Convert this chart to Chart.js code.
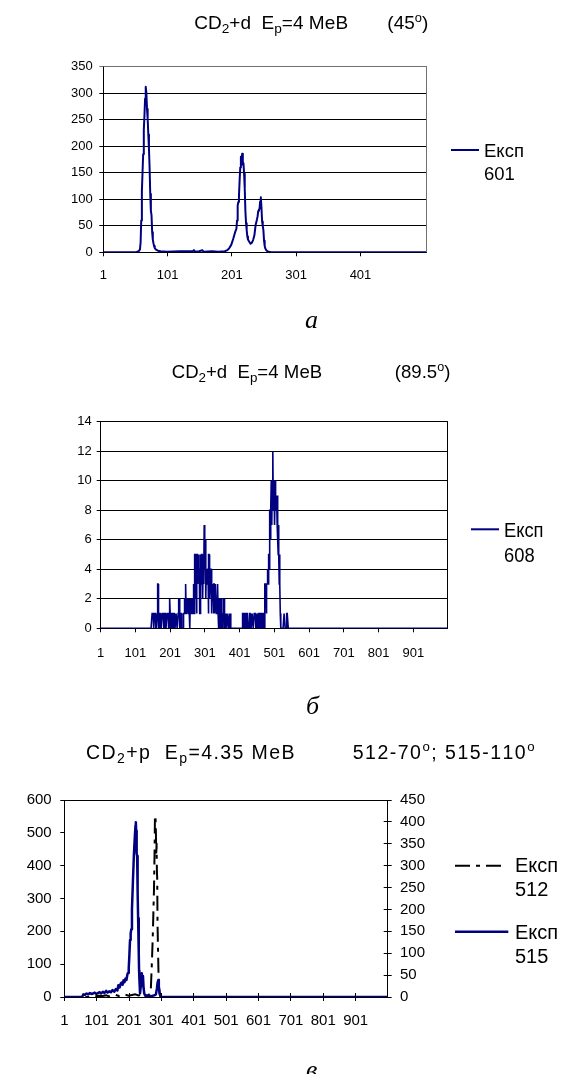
<!DOCTYPE html>
<html>
<head>
<meta charset="utf-8">
<script src="https://cdn.jsdelivr.net/npm/chart.js@4.4.1/dist/chart.umd.min.js"></script>
<style>
html,body{margin:0;padding:0;background:#fff;}
#wrap{position:relative;width:569px;height:1074px;overflow:hidden;background:#fff;}
canvas{position:absolute;left:0;}
</style>
</head>
<body>
<div id="wrap">
<canvas id="c1" width="569" height="340" style="top:0px"></canvas>
<canvas id="c2" width="569" height="380" style="top:340px"></canvas>
<canvas id="c3" width="569" height="354" style="top:720px"></canvas>
</div>
<script>
// ---------- DATA ----------
// Panel а: spectrum 601, [channel, counts]
const spectrum601 = [[1,0],[52,0],[54,1],[56,2],[58,5],[59,18],[60,60],[61,115],[62,150],[63,185],[64,230],[65,258],[66,290],[67,312],[68,300],[69,270],[70,252],[71,222],[72,195],[73,160],[74,110],[75,78],[76,70],[77,38],[78,24],[79,17],[80,12],[81,8],[83,5],[86,3],[90,2],[100,1],[120,2],[140,2],[142,4],[144,1],[150,2],[155,4],[157,1],[170,2],[180,1],[190,2],[194,4],[197,8],[200,14],[203,25],[206,38],[208,44],[209,60],[210,88],[211,95],[212,106],[213,135],[214,160],[215,180],[216,172],[217,186],[218,165],[219,168],[220,148],[221,120],[222,78],[223,55],[224,42],[225,30],[226,24],[228,20],[230,16],[232,18],[234,23],[236,32],[238,52],[240,62],[241,68],[242,78],[243,80],[244,82],[245,96],[246,104],[247,84],[248,58],[249,50],[250,42],[251,22],[252,12],[253,7],[255,3],[258,1],[262,0],[504,0]];
const xTicks601 = [1,101,201,301,401];
const yTicks601 = [0,50,100,150,200,250,300,350];

// Panel б: spectrum 608, counts per channel starting at channel counts608First
const counts608First = 145;
const counts608 = [
0,0,0,0,
1,1,1,1,0,0,1,1,1,1,1,0,0,
0,0,1,3,3,1,0,0,
0,1,1,1,0,0,0,0,1,1,1,1,0,
0,0,0,1,1,1,0,0,0,1,1,1,1,0,0,0,
2,2,1,1,0,0,0,1,1,1,0,0,0,1,1,1,0,
0,0,1,1,1,0,0,0,1,1,2,2,1,0,0,0,
1,1,1,0,0,0,0,0,1,1,2,1,1,3,3,1,
2,2,2,1,1,2,2,1,1,0,0,2,2,1,2,2,
1,1,2,2,3,3,1,1,5,5,2,4,4,1,5,5,
3,3,5,5,4,4,1,1,5,5,3,3,5,5,2,2,
4,4,3,7,7,4,6,6,2,4,4,3,3,4,4,1,
5,5,2,2,3,3,4,4,1,2,3,3,2,2,1,3,
3,1,1,3,3,2,2,1,1,3,3,1,1,0,2,2,
1,0,0,2,2,1,0,0,0,1,1,2,2,0,0,0,
1,1,0,0,0,1,1,1,0,0,0,1,1,0,1,1,0,0,0,0,
0,0,0,0,0,0,0,0,0,0,0,0,0,0,0,0,0,0,0,0,0,0,0,0,0,0,0,
0,0,1,1,1,0,0,0,0,1,1,1,0,0,0,1,1,1,1,0,0,0,0,1,1,
1,0,0,0,0,1,1,1,0,0,0,1,1,1,1,0,0,0,0,1,1,0,0,0,1,
1,1,0,0,0,1,1,1,0,0,0,1,1,1,0,0,3,3,3,
3,3,1,3,3,4,4,3,4,5,
5,4,8,8,6,8,10,10,7,10,
12,12,8,9,10,10,7,9,10,9,
8,9,9,7,9,6,5,7,5,3,
5,3,1,1,0,0,0,
0,0,0,0,0,0,1,1,1,0,0,0,0,0,1,1,1,1,0,0,0,0,0,0,0,0,0,0
];
const counts608Edges = [[1,0],[1000,0]];
const xTicks608 = [1,101,201,301,401,501,601,701,801,901];
const yTicks608 = [0,2,4,6,8,10,12,14];

// Panel в: spectra 512 (left axis) and 515 (right axis), [channel, counts]
const spectrum512 = [[1,0],[90,0],[100,2],[110,4],[120,3],[130,5],[140,2],[150,4],[160,6],[170,3],[180,5],[190,7],[200,4],[210,6],[220,8],[230,5],[240,7],[250,5],[260,6],[266,10],[268,16],[271,90],[274,174],[276,250],[278,326],[280,450],[281,549],[282,553],[283,540],[284,500],[285,430],[286,469],[287,387],[288,360],[289,224],[290,170],[292,73],[294,30],[296,6],[300,0],[1000,0]];
const spectrum515 = [[1,0],[55,0],[58,3],[60,6],[65,5],[70,8],[75,6],[80,9],[85,7],[90,8],[95,10],[100,7],[105,9],[110,11],[115,8],[120,12],[125,9],[130,14],[135,10],[140,13],[145,11],[150,16],[155,12],[160,18],[165,15],[168,27],[172,22],[175,30],[178,33],[181,28],[184,38],[187,34],[190,42],[193,39],[196,52],[198,55],[200,65],[202,95],[204,130],[206,145],[208,155],[210,200],[213,265],[216,325],[219,368],[221,392],[222,399],[223,380],[224,345],[225,328],[226,322],[227,300],[228,240],[229,180],[231,100],[232,60],[233,40],[235,8],[236,8],[238,30],[240,52],[241,54],[242,25],[244,48],[246,20],[248,8],[251,3],[255,2],[262,3],[270,2],[280,4],[284,6],[287,19],[289,32],[291,38],[293,25],[295,10],[298,2],[300,0],[1000,0]];
const xTicksV = [1,101,201,301,401,501,601,701,801,901];
const yTicksLeftV = [0,100,200,300,400,500,600];
const yTicksRightV = [0,50,100,150,200,250,300,350,400,450];

// ---------- HELPERS ----------
const FONT = "'Liberation Sans', Arial, Helvetica, sans-serif";
const NAVY = '#000080';
const al = p => Math.round(p - 0.5) + 0.5;

function richText(ctx, x, y, segs, size, ls, sx) {
  ctx.save();
  ctx.translate(x, y);
  ctx.scale(sx || 1, 1);
  ctx.fillStyle = '#000';
  ctx.textBaseline = 'alphabetic';
  ctx.textAlign = 'left';
  let cx = 0;
  for (const seg of segs) {
    const t = seg[0], kind = seg[1];
    let fs = size, dy = 0;
    if (kind === 'sub') { fs = size * 0.72; dy = size * 0.18; }
    if (kind === 'sup') { fs = size * 0.68; dy = -size * 0.4; }
    ctx.font = fs + 'px ' + FONT;
    if (ls) {
      for (const ch of t) { ctx.fillText(ch, cx, dy); cx += ctx.measureText(ch).width + ls; }
    } else {
      ctx.fillText(t, cx, dy); cx += ctx.measureText(t).width;
    }
  }
  ctx.restore();
}

function makeDecor(spec) {
  return {
    id: 'decor',
    afterDraw(chart) {
      const ctx = chart.ctx, a = chart.chartArea;
      ctx.save();
      ctx.lineWidth = 1;
      ctx.strokeStyle = spec.frameColor;
      ctx.beginPath();
      ctx.moveTo(a.left, al(a.top)); ctx.lineTo(al(a.right), al(a.top)); ctx.lineTo(al(a.right), a.bottom);
      ctx.stroke();
      if (spec.innerTicks) spec.innerTicks(chart, ctx);
      spec.titles.forEach(t => richText(ctx, t.x, t.y, t.segs, t.size, t.ls || 0, t.sx || 1));
      chart.data.datasets.forEach((ds, k) => {
        const L = spec.legend[k];
        ctx.save();
        ctx.strokeStyle = ds.borderColor; ctx.lineWidth = L.w || ds.borderWidth;
        ctx.setLineDash(ds.borderDash || []);
        ctx.beginPath(); ctx.moveTo(L.x1, L.y); ctx.lineTo(L.x2, L.y); ctx.stroke();
        ctx.restore();
        ds.label.split(' ').forEach((s, j) => richText(ctx, L.tx, L.base[j], [[s]], L.size, 0, L.sx || 1));
      });
      ctx.font = 'italic ' + spec.letter.size + "px 'Liberation Serif', 'Times New Roman', serif";
      ctx.fillStyle = '#000';
      ctx.textBaseline = 'alphabetic';
      ctx.fillText(spec.letter.text, spec.letter.x, spec.letter.y);
      ctx.restore();
    }
  };
}

function xAxis(min, max, ticks, size, pad, h) {
  return {
    type: 'linear', min: min, max: max,
    afterBuildTicks: s => { s.ticks = ticks.map(v => ({ value: v })); },
    afterFit: s => { s.height = h; },
    ticks: { font: { family: FONT, size: size }, color: '#000', padding: pad, autoSkip: false, maxRotation: 0, minRotation: 0, callback: v => String(v) },
    grid: { drawOnChartArea: false, drawTicks: true, tickLength: 4, color: '#000', lineWidth: 1 },
    border: { display: true, color: '#000', width: 1 }
  };
}
function yAxis(pos, min, max, ticks, size, pad, w, gridOn, gridColor) {
  return {
    type: 'linear', position: pos, min: min, max: max,
    afterBuildTicks: s => { s.ticks = ticks.map(v => ({ value: v })); },
    afterFit: s => { s.width = w; },
    ticks: { font: { family: FONT, size: size }, color: '#000', padding: pad, callback: v => String(v) },
    grid: { drawOnChartArea: gridOn, drawTicks: true, tickLength: 4, color: gridColor || '#000', lineWidth: 1 },
    border: { display: true, color: '#000', width: 1 }
  };
}
const pts = arr => arr.map(p => ({ x: p[0], y: p[1] }));

// ---------- PANEL а ----------
new Chart(document.getElementById('c1'), {
  type: 'line',
  data: { datasets: [{
    label: 'Експ 601', data: pts(spectrum601), borderColor: NAVY, borderWidth: 2,
    pointRadius: 0, tension: 0, fill: false, borderJoinStyle: 'round'
  }] },
  options: {
    responsive: false, animation: false, events: [],
    layout: { padding: { left: 63.3, right: 142.3, top: 66.7, bottom: 47.7 } },
    plugins: { legend: { display: false }, tooltip: { enabled: false }, title: { display: false } },
    scales: {
      x: xAxis(1, 504, xTicks601, 13, 11, 40),
      y: yAxis('left', 0, 350, yTicks601, 13, 6.6, 40, true, c => (c.tick && c.tick.value === 350) ? '#707070' : '#000')
    }
  },
  plugins: [makeDecor({
    frameColor: '#707070',
    titles: [
      { x: 194.3, y: 29.3, size: 19, segs: [['CD'], ['2', 'sub'], ['+d  E'], ['p', 'sub'], ['=4 МеВ']] },
      { x: 387.3, y: 29.3, size: 19, segs: [['(45'], ['o', 'sup'], [')']] }
    ],
    legend: [{ x1: 451, x2: 479, y: 150, tx: 484, base: [157.3, 180], size: 18.5 }],
    letter: { text: 'а', x: 305, y: 328, size: 26 }
  })]
});

// ---------- PANEL б ----------
const data608 = [pts([counts608Edges[0]])[0]]
  .concat(counts608.map((v, k) => ({ x: counts608First + k, y: v })))
  .concat(pts([counts608Edges[1]]));
new Chart(document.getElementById('c2'), {
  type: 'line',
  data: { datasets: [{
    label: 'Експ 608', data: data608, borderColor: NAVY, borderWidth: 1.6,
    pointRadius: 0, tension: 0, fill: false, borderJoinStyle: 'miter'
  }] },
  options: {
    responsive: false, animation: false, events: [],
    layout: { padding: { left: 60.7, right: 121.3, top: 81.7, bottom: 51.7 } },
    plugins: { legend: { display: false }, tooltip: { enabled: false }, title: { display: false } },
    scales: {
      x: xAxis(1, 1000, xTicks608, 13, 13.2, 40),
      y: yAxis('left', 0, 14, yTicks608, 13, 5, 40, true)
    }
  },
  plugins: [makeDecor({
    frameColor: '#000',
    titles: [
      { x: 171.7, y: 38.3, size: 18.6, segs: [['CD'], ['2', 'sub'], ['+d  E'], ['p', 'sub'], ['=4 МеВ']] },
      { x: 394.8, y: 38.3, size: 18.6, segs: [['(89.5'], ['o', 'sup'], [')']] }
    ],
    legend: [{ x1: 471, x2: 499, y: 189.3, tx: 504, base: [196.7, 221.7], size: 19.5, sx: 0.94, w: 2 }],
    letter: { text: 'б', x: 306, y: 374, size: 26 }
  })]
});

// ---------- PANEL в ----------
new Chart(document.getElementById('c3'), {
  type: 'line',
  data: { datasets: [
    { label: 'Експ 512', data: pts(spectrum512), yAxisID: 'y', borderColor: '#000', borderWidth: 2,
      borderDash: [15, 6, 4, 6], pointRadius: 0, tension: 0, fill: false, order: 1 },
    { label: 'Експ 515', data: pts(spectrum515), yAxisID: 'y2', borderColor: NAVY, borderWidth: 2.5,
      pointRadius: 0, tension: 0, fill: false, order: 0, borderJoinStyle: 'round' }
  ] },
  options: {
    responsive: false, animation: false, events: [],
    layout: { padding: { left: 24.3, right: 131.3, top: 80, bottom: 37 } },
    plugins: { legend: { display: false }, tooltip: { enabled: false }, title: { display: false } },
    scales: {
      x: xAxis(1, 1000, xTicksV, 15, 11, 40),
      y: yAxis('left', 0, 600, yTicksLeftV, 15, 8.6, 40, false),
      y2: yAxis('right', 0, 450, yTicksRightV, 15, 8.3, 50, false)
    }
  },
  plugins: [makeDecor({
    frameColor: '#000',
    innerTicks: (chart, ctx) => {
      const a = chart.chartArea, xs = chart.scales.x, y2 = chart.scales.y2;
      ctx.save();
      ctx.strokeStyle = '#000'; ctx.lineWidth = 1; ctx.beginPath();
      xTicksV.forEach(v => { if (v === xs.min) return; const px = al(xs.getPixelForValue(v)); ctx.moveTo(px, a.bottom); ctx.lineTo(px, a.bottom - 4); });
      yTicksRightV.forEach(v => { const py = al(y2.getPixelForValue(v)); ctx.moveTo(a.right, py); ctx.lineTo(a.right - 4, py); });
      ctx.stroke(); ctx.restore();
    },
    titles: [
      { x: 86, y: 39, size: 19.5, ls: 1.4, segs: [['CD'], ['2', 'sub'], ['+p  E'], ['p', 'sub'], ['=4.35 МеВ']] },
      { x: 352.7, y: 39, size: 19.5, ls: 1.5, segs: [['512-70'], ['o', 'sup'], ['; 515-110'], ['o', 'sup']] }
    ],
    legend: [
      { x1: 455, x2: 501.7, y: 145.7, tx: 515, base: [152.3, 176], size: 20 },
      { x1: 455, x2: 508.3, y: 211.7, tx: 515, base: [219, 243.3], size: 20 }
    ],
    letter: { text: 'в', x: 306, y: 358, size: 26 }
  })]
});
</script>
</body>
</html>
